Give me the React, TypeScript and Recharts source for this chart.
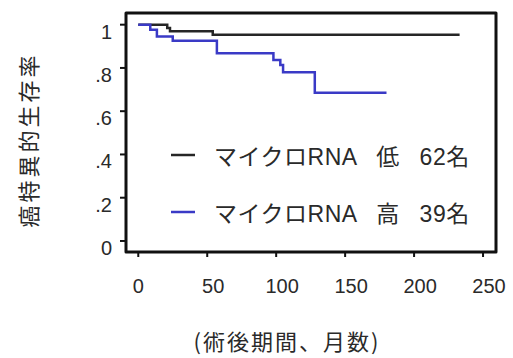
import { Legend, Line, LineChart, ReferenceArea, XAxis, YAxis } from 'recharts'

// Kaplan-Meier steps (months, survival)
const lowMonths = [0, 21, 23, 54, 233]
const lowSurvival = [1, 0.985, 0.97, 0.953, 0.953]
const highMonths = [0, 8.7, 13.5, 25, 57, 98, 103, 105, 128, 180]
const highSurvival = [1, 0.977, 0.945, 0.926, 0.868, 0.837, 0.814, 0.78, 0.685, 0.685]

const xTicks = [0, 50, 100, 150, 200, 250]
const yTicks = [0, 0.2, 0.4, 0.6, 0.8, 1]
const yTickLabels = ['0', '.2', '.4', '.6', '.8', '1']

const seriesNames = ['マイクロRNA 低 62名', 'マイクロRNA 高 39名']
const yTitle = '癌特異的生存率'
const xTitle = '(術後期間、月数)'

const xDomain: [number, number] = [-8.9, 259.4]
const yDomain: [number, number] = [-0.051, 1.054]

const lowData = lowMonths.map((t, i) => ({ t, s: lowSurvival[i] }))
const highData = highMonths.map((t, i) => ({ t, s: highSurvival[i] }))

const FONT = '"Liberation Sans", Arial, "Noto Sans CJK JP", sans-serif'
const TEXT = '#2a2a2a'

const XTick = ({ x, y, payload, index }: any) => (
  <text x={x + (index > 0 ? 6 : 0)} y={y + 34} textAnchor="middle" fontSize={20} fill={TEXT} fontFamily={FONT}>
    {payload.value}
  </text>
)

const YTick = ({ x, y, index }: any) => (
  <text x={x - 6} y={y + 14} textAnchor="end" fontSize={20} fill={TEXT} fontFamily={FONT}>
    {yTickLabels[index]}
  </text>
)

const LegendBox = ({ payload }: any) => (
  <div style={{ fontFamily: FONT, color: TEXT }}>
    {(payload || []).map((entry: any) => (
      <div key={entry.value} style={{ display: 'flex', alignItems: 'center', height: 57 }}>
        <svg width={24} height={4} style={{ marginRight: 19 }}>
          <line x1={0} y1={2} x2={24} y2={2} stroke={entry.color} strokeWidth={2.5} />
        </svg>
        <span style={{ fontSize: 23, letterSpacing: 0.5, wordSpacing: 13, whiteSpace: 'pre' }}>{entry.value}</span>
      </div>
    ))}
  </div>
)

export default function App() {
  return (
    <div style={{ position: 'absolute', left: 0, top: 0, width: 513, height: 358, background: '#fff' }}>
      <LineChart width={513} height={358} margin={{ top: 13, right: 17, bottom: 66, left: 0 }}>
        <XAxis
          type="number"
          dataKey="t"
          domain={xDomain}
          ticks={xTicks}
          height={40}
          axisLine={false}
          tickLine={{ stroke: '#111', strokeWidth: 2 }}
          tickSize={5}
          tick={<XTick />}
          allowDataOverflow
        />
        <YAxis
          type="number"
          dataKey="s"
          domain={yDomain}
          ticks={yTicks}
          width={126}
          axisLine={false}
          tickLine={{ stroke: '#111', strokeWidth: 2 }}
          tickSize={6}
          tick={<YTick />}
          allowDataOverflow
        />
        <ReferenceArea
          x1={xDomain[0]}
          x2={xDomain[1]}
          y1={yDomain[0]}
          y2={yDomain[1]}
          fill="none"
          stroke="#111"
          strokeWidth={3}
          strokeLinejoin="round"
        />
        <Line
          data={lowData}
          dataKey="s"
          name={seriesNames[0]}
          type="stepAfter"
          stroke="#262626"
          strokeWidth={2.5}
          dot={false}
          isAnimationActive={false}
        />
        <Line
          data={highData}
          dataKey="s"
          name={seriesNames[1]}
          type="stepAfter"
          stroke="#3a3ac6"
          strokeWidth={2.5}
          dot={false}
          isAnimationActive={false}
        />
        <Legend
          layout="vertical"
          align="center"
          verticalAlign="middle"
          content={<LegendBox />}
          wrapperStyle={{ left: 171, top: 126, width: 330 }}
        />
        <text
          x={27}
          y={140}
          transform="rotate(-90 27 140)"
          textAnchor="middle"
          dominantBaseline="central"
          fontSize={22}
          letterSpacing={3}
          fill={TEXT}
          fontFamily='"Noto Sans CJK JP", sans-serif'
        >
          {yTitle}
        </text>
        <text
          x={287}
          y={340}
          textAnchor="middle"
          dominantBaseline="central"
          fontSize={22}
          letterSpacing={2}
          fill={TEXT}
          fontFamily='"Noto Sans CJK JP", sans-serif'
        >
          {xTitle}
        </text>
      </LineChart>
    </div>
  )
}
